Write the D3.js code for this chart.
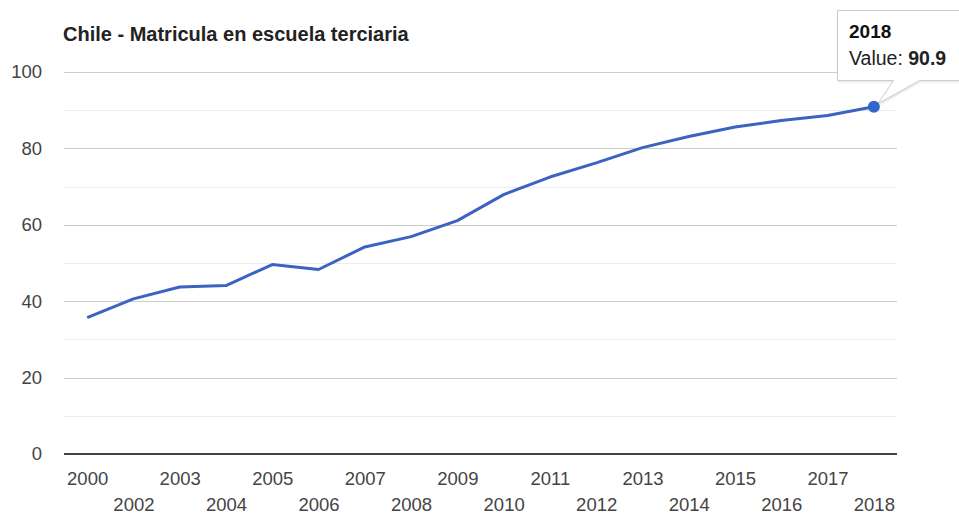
<!DOCTYPE html>
<html>
<head>
<meta charset="utf-8">
<script src="https://cdn.jsdelivr.net/npm/d3@7"></script>
<style>
  html, body { margin: 0; padding: 0; background: #fff; }
  svg { display: block; font-family: "Liberation Sans", Arial, sans-serif; }
</style>
</head>
<body>
<svg id="chart" width="959" height="515"></svg>
<script>
// Tertiary school enrollment, Chile (gross %)
const years = ["2000", "2002", "2003", "2004", "2005", "2006", "2007", "2008", "2009",
               "2010", "2011", "2012", "2013", "2014", "2015", "2016", "2017", "2018"];
const values = [35.7, 40.6, 43.7, 44.1, 49.6, 48.3, 54.2, 56.9, 61.1,
                67.9, 72.5, 76.2, 80.2, 83.1, 85.6, 87.3, 88.6, 90.9];
const majorTicks = [0, 20, 40, 60, 80, 100];
const minorTicks = [10, 30, 50, 70, 90];
const upperRowYears = ["2000", "2003", "2005", "2007", "2009", "2011", "2013", "2015", "2017"];
const titleText = "Chile - Matricula en escuela terciaria";

const svg = d3.select("#chart");
const margin = { left: 64, right: 62, top: 72, bottom: 60 };
const W = 959, H = 515;
const labelSize = 18.5;

const x = d3.scalePoint()
  .domain(years)
  .range([margin.left, W - margin.right])
  .padding(0.5);

const y = d3.scaleLinear()
  .domain([0, 100])
  .range([H - margin.bottom - 1, margin.top]);

// gridlines
svg.append("g").selectAll("line")
  .data(minorTicks).join("line")
  .attr("x1", margin.left).attr("x2", W - margin.right)
  .attr("y1", d => Math.round(y(d)) + 0.5).attr("y2", d => Math.round(y(d)) + 0.5)
  .attr("stroke", "#ececec").attr("stroke-width", 1);

svg.append("g").selectAll("line")
  .data(majorTicks.filter(d => d > 0)).join("line")
  .attr("x1", margin.left).attr("x2", W - margin.right)
  .attr("y1", d => Math.round(y(d)) + 0.5).attr("y2", d => Math.round(y(d)) + 0.5)
  .attr("stroke", "#cccccc").attr("stroke-width", 1);

// baseline
svg.append("line")
  .attr("x1", margin.left).attr("x2", W - margin.right)
  .attr("y1", y(0)).attr("y2", y(0))
  .attr("stroke", "#444").attr("stroke-width", 2);

// y labels
const yAxis = d3.axisLeft(y).tickValues(majorTicks).tickSize(0).tickPadding(0);
const gy = svg.append("g").attr("transform", `translate(42,0)`).call(yAxis);
gy.select(".domain").remove();
gy.selectAll("text")
  .attr("fill", "#444").attr("font-size", labelSize)
  .attr("font-family", "Liberation Sans, Arial, sans-serif");

// x labels, staggered on two rows
const xAxis = d3.axisBottom(x).tickSize(0).tickPadding(0);
const gx = svg.append("g").attr("transform", `translate(0,${y(0)})`).call(xAxis);
gx.select(".domain").remove();
gx.selectAll("text")
  .attr("fill", "#444").attr("font-size", labelSize)
  .attr("font-family", "Liberation Sans, Arial, sans-serif")
  .attr("dy", null)
  .attr("y", d => upperRowYears.includes(d) ? 31 : 57);

// title
svg.append("text")
  .attr("x", 63).attr("y", 41)
  .attr("font-weight", "bold").attr("font-size", 20)
  .attr("fill", "#222")
  .text(titleText);

// line
const line = d3.line()
  .x((d, i) => x(years[i]))
  .y(d => y(d));

svg.append("path")
  .datum(values)
  .attr("d", line)
  .attr("fill", "none")
  .attr("stroke", "#3d63c0")
  .attr("stroke-width", 3)
  .attr("stroke-linejoin", "round");

// highlighted last point with tooltip
const lastI = values.length - 1;
const px = x(years[lastI]), py = y(values[lastI]);

const tip = svg.append("g");
const bx = 837.5, by = 10.5, bw = 130, bh = 70;
tip.append("path")
  .attr("d", `M${bx},${by} H${bx + bw} V${by + bh} H${bx + 82} L${px + 4},${py - 3} L${bx + 56},${by + bh} H${bx} Z`)
  .attr("fill", "#fff")
  .attr("stroke", "#cccccc")
  .attr("stroke-width", 1)
  .style("filter", "drop-shadow(1px 1px 1px rgba(0,0,0,0.12))");

tip.append("text")
  .attr("x", 849).attr("y", 38)
  .attr("font-weight", "bold").attr("font-size", 19).attr("fill", "#111")
  .text(years[lastI]);
const t2 = tip.append("text")
  .attr("x", 849).attr("y", 65)
  .attr("font-size", 19.5).attr("fill", "#222");
t2.append("tspan").text("Value: ");
t2.append("tspan").attr("font-weight", "bold").text(values[lastI]);

svg.append("circle")
  .attr("cx", px).attr("cy", py).attr("r", 6)
  .attr("fill", "#3366cc");
</script>
</body>
</html>
